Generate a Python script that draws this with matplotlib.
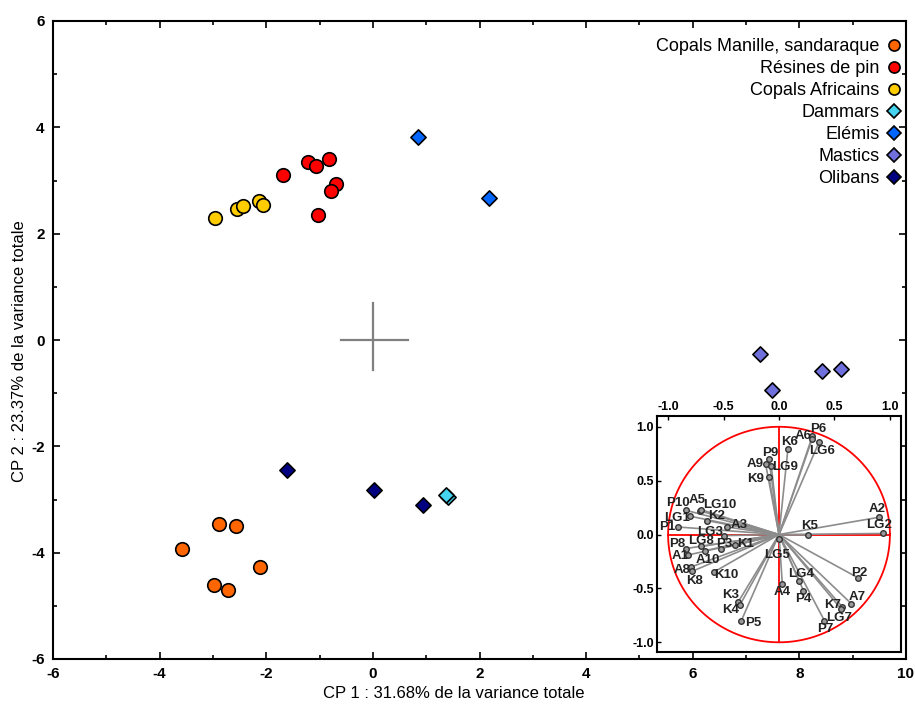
import numpy as np
import matplotlib
matplotlib.use("Agg")
import matplotlib.pyplot as plt
from matplotlib.lines import Line2D

plt.rcParams['font.family'] = ['Liberation Sans', 'DejaVu Sans']
plt.rcParams['axes.unicode_minus'] = False

# Scores, CP1 / CP2
manille_x = [-3.58, -2.89, -2.57, -2.98, -2.72, -2.12]
manille_y = [-3.93, -3.46, -3.50, -4.61, -4.70, -4.27]
pin_x = [-1.68, -1.22, -1.06, -0.82, -0.69, -0.79, -1.03]
pin_y = [3.11, 3.35, 3.28, 3.41, 2.93, 2.80, 2.36]
africains_x = [-2.97, -2.55, -2.43, -2.14, -2.06]
africains_y = [2.29, 2.46, 2.52, 2.61, 2.54]
dammars_x = [1.41, 1.37]
dammars_y = [-2.96, -2.91]
elemis_x = [0.85, 2.17]
elemis_y = [3.81, 2.67]
mastics_x = [7.26, 7.49, 8.42, 8.79]
mastics_y = [-0.26, -0.94, -0.58, -0.54]
olibans_x = [-1.62, 0.02, 0.94]
olibans_y = [-2.45, -2.82, -3.10]

groups = [
    ("Copals Manille, sandaraque", manille_x, manille_y, 'o', '#ff6600'),
    ("Résines de pin", pin_x, pin_y, 'o', '#ff0000'),
    ("Copals Africains", africains_x, africains_y, 'o', '#ffcc00'),
    ("Dammars", dammars_x, dammars_y, 'D', '#44d4f0'),
    ("Elémis", elemis_x, elemis_y, 'D', '#0066ff'),
    ("Mastics", mastics_x, mastics_y, 'D', '#7070dd'),
    ("Olibans", olibans_x, olibans_y, 'D', '#000080'),
]

# Loadings (cercle des corrélations)
var_names = ['P6', 'A6', 'LG6', 'K6', 'P9', 'A9', 'LG9', 'K9', 'P10', 'A5',
             'LG10', 'LG1', 'K2', 'P1', 'A3', 'LG3', 'P8', 'LG8', 'P3', 'K1',
             'A10', 'A1', 'A8', 'K8', 'K10', 'LG5', 'K3', 'K4', 'P5', 'A4',
             'LG4', 'P4', 'K7', 'LG7', 'P7', 'A7', 'P2', 'K5', 'A2', 'LG2']
var_x = [0.30, 0.30, 0.36, 0.08, -0.09, -0.12, -0.07, -0.09, -0.84, -0.71,
         -0.70, -0.80, -0.65, -0.91, -0.47, -0.50, -0.84, -0.70, -0.52, -0.40,
         -0.67, -0.82, -0.79, -0.78, -0.59, 0.00, -0.37, -0.35, -0.34, 0.03,
         0.18, 0.22, 0.57, 0.56, 0.41, 0.65, 0.71, 0.26, 0.90, 0.94]
var_y = [0.91, 0.89, 0.855, 0.79, 0.70, 0.65, 0.64, 0.53, 0.225, 0.22,
         0.23, 0.17, 0.13, 0.07, 0.07, -0.01, -0.13, -0.11, -0.13, -0.10,
         -0.15, -0.19, -0.30, -0.34, -0.35, -0.04, -0.63, -0.65, -0.80, -0.46,
         -0.43, -0.52, -0.67, -0.69, -0.80, -0.64, -0.40, 0.00, 0.16, 0.01]

# label offsets in pixels (dx, dy)
label_off = {
    'P6': (6, 7), 'A6': (-9, 3), 'LG6': (3, -9), 'K6': (2, 7), 'P9': (1, 6),
    'A9': (-11, 0), 'LG9': (14, -1), 'K9': (-13, -2), 'P10': (-8, 7),
    'A5': (-3, 11), 'LG10': (18, 5), 'LG1': (-13, -2), 'K2': (10, 5),
    'P1': (-11, 0), 'A3': (12, 2), 'LG3': (-13, 4), 'P8': (-9, 5),
    'LG8': (0, 5), 'P3': (3, 5), 'K1': (11, 1), 'A10': (3, -9),
    'A1': (-8, -1), 'A8': (-9, -3), 'K8': (2, -10), 'K10': (13, -3),
    'LG5': (-2, -16), 'K3': (-7, 7), 'K4': (-10, -5), 'P5': (12, -2),
    'A4': (0, -8), 'LG4': (2, 7), 'P4': (0, -8), 'K7': (-10, 2),
    'LG7': (-2, -9), 'P7': (1, -8), 'A7': (6, 7), 'P2': (2, 5),
    'K5': (2, 9), 'A2': (-2, 8), 'LG2': (-4, 8),
}

fig = plt.figure(figsize=(9.15, 7.04), dpi=100)
ax = fig.add_axes([53/915, 45/704, 853/915, 638/704])

for name, xs, ys, mk, col in groups:
    ax.scatter(xs, ys, s=95 if mk == 'o' else 60, marker=mk, c=col,
               edgecolors='black', linewidths=1.2, zorder=3)

# croix au centre
ax.plot([-0.6, 0.66], [0, 0], color='#808080', lw=1.6, zorder=2)
ax.plot([0, 0], [-0.56, 0.7], color='#808080', lw=1.6, zorder=2)

ax.set_xlim(-6, 10)
ax.set_ylim(-6, 6)
ax.set_xticks(np.arange(-6, 11, 2))
ax.set_yticks(np.arange(-6, 7, 2))
ax.set_xticks(np.arange(-5, 10, 2), minor=True)
ax.set_yticks(np.arange(-5, 6, 2), minor=True)
ax.tick_params(which='both', direction='in', top=True, right=True, width=1.2)
ax.tick_params(which='major', length=5, labelsize=11, pad=6)
ax.tick_params(which='minor', length=3)
for lab in ax.get_xticklabels() + ax.get_yticklabels():
    lab.set_fontweight('bold')
for sp in ax.spines.values():
    sp.set_linewidth(1.5)

ax.set_xlabel("CP 1 : 31.68% de la variance totale", fontsize=12)
ax.set_ylabel("CP 2 : 23.37% de la variance totale", fontsize=12)
ax.xaxis.set_label_coords(0.47, -0.042)
ax.yaxis.set_label_coords(-0.031, 0.483)

handles = [Line2D([], [], ls='none', marker=mk, markersize=8 if mk == 'o' else 7,
                  markerfacecolor=col, markeredgecolor='black', markeredgewidth=1.2)
           for name, xs, ys, mk, col in groups]
leg = ax.legend(handles, [g[0] for g in groups], loc='upper right', frameon=False,
                markerfirst=False, fontsize=13, handlelength=0.8, handletextpad=0.4,
                labelspacing=0.28, borderaxespad=0.3, bbox_to_anchor=(1.009, 0.993))
for t in leg.get_texts():
    t.set_ha('right')

# encart : cercle des corrélations
ins = fig.add_axes([657/915, 52/704, 244/915, 236/704])
ins.set_facecolor('white')
ins.set_zorder(5)
th = np.linspace(0, 2 * np.pi, 300)
ins.plot(np.cos(th), np.sin(th), color='red', lw=1.3, zorder=2)
ins.plot([-1, 1], [0, 0], color='red', lw=1.3, zorder=2)
ins.plot([0, 0], [-1, 1], color='red', lw=1.3, zorder=2)
for n, vx, vy in zip(var_names, var_x, var_y):
    ins.plot([0, vx], [0, vy], color='#8c8c8c', lw=1.2, zorder=3)
ins.scatter(var_x, var_y, s=16, c='#9a9a9a', edgecolors='#333333',
            linewidths=1.0, zorder=4)
for n, vx, vy in zip(var_names, var_x, var_y):
    dx, dy = label_off[n]
    ins.annotate(n, (vx, vy), xytext=(dx, dy), textcoords='offset pixels',
                 ha='center', va='center', fontsize=9.5, fontweight='bold',
                 color='#222222', zorder=5)
ins.set_xlim(-1.1, 1.1)
ins.set_ylim(-1.09, 1.1)
ins.set_xticks([-1.0, -0.5, 0.0, 0.5, 1.0])
ins.set_yticks([-1.0, -0.5, 0.0, 0.5, 1.0])
ins.set_xticklabels(['-1.0', '-0.5', '0.0', '0.5', '1.0'])
ins.set_yticklabels(['-1.0', '-0.5', '0.0', '0.5', '1.0'])
ins.xaxis.tick_top()
ins.tick_params(direction='in', length=3, width=1, labelsize=9, pad=2)
for lab in ins.get_xticklabels() + ins.get_yticklabels():
    lab.set_fontweight('bold')
for sp in ins.spines.values():
    sp.set_linewidth(1.5)

fig.savefig("out.png", dpi=100)
